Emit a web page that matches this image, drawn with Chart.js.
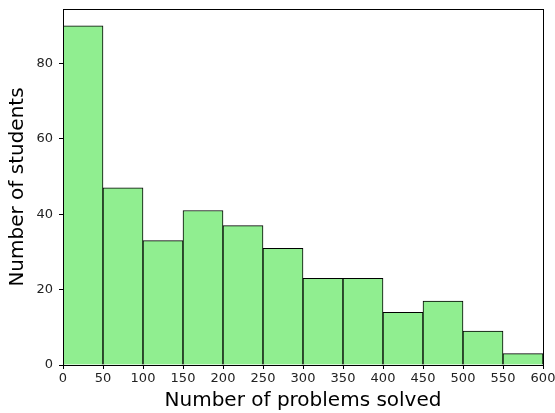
<!DOCTYPE html>
<html>
<head>
<meta charset="utf-8">
<script src="https://cdn.jsdelivr.net/npm/chart.js@4/dist/chart.umd.min.js"></script>
<style>
  html, body { margin: 0; padding: 0; background: #fff; }
</style>
</head>
<body>
<canvas id="hist" width="555" height="413"></canvas>
<script>
var binEdges = [0, 50, 100, 150, 200, 250, 300, 350, 400, 450, 500, 550, 600]
var counts = [90, 47, 33, 41, 37, 31, 23, 23, 14, 17, 9, 3]
var yTicks = [0, 20, 40, 60, 80]

// bars sit at bin centres on a linear x axis
var points = counts.map((c, i) => ({ x: (binEdges[i] + binEdges[i + 1]) / 2, y: c }))

var frame = {
  id: 'frame',
  afterDraw(chart) {
    const a = chart.chartArea, ctx = chart.ctx
    ctx.save()
    ctx.strokeStyle = '#000'
    ctx.lineWidth = 1
    ctx.strokeRect(Math.round(a.left) + 0.5, Math.round(a.top) + 0.5, Math.round(a.right - a.left), Math.round(a.bottom - a.top))
    ctx.restore()
  }
}

function noPad(axis) {
  axis.paddingTop = 0
  axis.paddingBottom = 0
  axis.paddingLeft = 0
  axis.paddingRight = 0
}

new Chart(document.getElementById('hist').getContext('2d'), {
  type: 'bar',
  data: {
    datasets: [{
      data: points,
      backgroundColor: '#90ee90',
      borderColor: '#000',
      borderWidth: 1,
      barPercentage: 1,
      categoryPercentage: 1
    }]
  },
  plugins: [frame],
  options: {
    responsive: false,
    animation: false,
    layout: { padding: { top: 9, right: 12, left: 0, bottom: 0 } },
    plugins: { legend: { display: false }, tooltip: { enabled: false } },
    scales: {
      x: {
        type: 'linear',
        offset: false,
        min: binEdges[0],
        max: binEdges[binEdges.length - 1],
        afterBuildTicks: axis => { axis.ticks = binEdges.map(v => ({ value: v })) },
        afterFit: axis => { axis.height = 48; noPad(axis) },
        grid: { drawOnChartArea: false, offset: false, tickLength: 4, color: '#000' },
        border: { display: false },
        ticks: { color: '#222', font: { family: 'DejaVu Sans', size: 13 }, padding: 2, maxRotation: 0 },
        title: { display: true, text: 'Number of problems solved', color: '#000', font: { family: 'DejaVu Sans', size: 20 }, padding: { top: 0, bottom: 0 } }
      },
      y: {
        min: 0,
        max: 94.5,
        afterBuildTicks: axis => { axis.ticks = yTicks.map(v => ({ value: v })) },
        afterFit: axis => { axis.width = 63; noPad(axis) },
        grid: { drawOnChartArea: false, tickLength: 4, color: '#000' },
        border: { display: false },
        ticks: { color: '#222', font: { family: 'DejaVu Sans', size: 13 }, padding: 6 },
        title: { display: true, text: 'Number of students', color: '#000', font: { family: 'DejaVu Sans', size: 20 }, padding: { top: 6, bottom: 0 } }
      }
    }
  }
})
</script>
</body>
</html>
